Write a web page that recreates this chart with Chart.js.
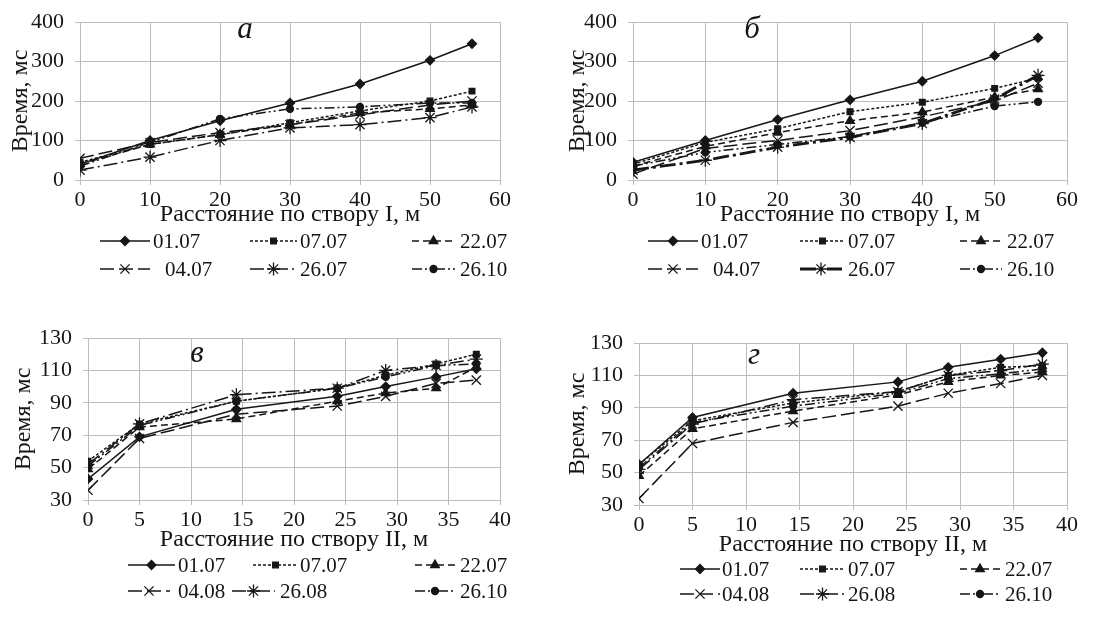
<!DOCTYPE html>
<html lang="ru">
<head>
<meta charset="UTF-8">
<title>Время прохождения по створам</title>
<script src="https://cdn.jsdelivr.net/npm/chart.js"></script>
<style>
  body { margin: 0; background: #fff; }
  .wrap { position: relative; width: 1104px; height: 617px; overflow: hidden; }
  canvas { position: absolute; }
</style>
</head>
<body>
<div class="wrap">
  <canvas id="chartA" width="552" height="310" style="left:0;top:0"></canvas>
  <canvas id="chartB" width="552" height="310" style="left:552px;top:0"></canvas>
  <canvas id="chartV" width="552" height="307" style="left:0;top:310px"></canvas>
  <canvas id="chartG" width="552" height="307" style="left:552px;top:310px"></canvas>
</div>
<script>
const distI = [0, 10, 20, 30, 40, 50, 56];
const distII = [0, 5, 14.4, 24.2, 28.9, 33.8, 37.7];
const datesI = ['01.07', '07.07', '22.07', '04.07', '26.07', '26.10'];
const datesII = ['01.07', '07.07', '22.07', '04.08', '26.08', '26.10'];
const yTicksI = [0, 100, 200, 300, 400];
const yTicksII = [30, 50, 70, 90, 110, 130];
const xTicksI = [0, 10, 20, 30, 40, 50, 60];
const xTicksII = [0, 5, 10, 15, 20, 25, 30, 35, 40];

// а) створ I
const timeA = [
  [40, 100, 150, 195, 243, 303, 345],
  [45, 90, 115, 145, 175, 200, 225],
  [40, 90, 115, 140, 170, 180, 190],
  [55, 95, 120, 140, 165, 190, 200],
  [25, 58, 100, 132, 140, 158, 185],
  [35, 95, 155, 180, 185, 195, 195]
];
// б) створ I
const timeB = [
  [45, 100, 153, 203, 250, 315, 360],
  [40, 95, 130, 173, 197, 232, 258],
  [35, 85, 120, 150, 172, 210, 230],
  [15, 80, 100, 125, 160, 200, 245],
  [25, 50, 83, 108, 143, 205, 265],
  [35, 70, 90, 110, 145, 187, 198]
];
// в) створ II
const timeV = [
  [43, 69, 86, 94, 100, 106, 111],
  [54, 77, 91, 99, 107, 114, 120],
  [49, 75, 80, 91, 96, 99, 112],
  [36, 68, 83, 88, 94, 102, 104],
  [52, 77, 95, 99, 110, 113, 117],
  [51, 76, 91, 99, 106, 113, 114]
];
// г) створ II
const timeG = [
  [55, 84, 99, 106, 115, 120, 124],
  [55, 82, 93, 100, 110, 115, 116],
  [48, 77, 88, 98, 106, 110, 112],
  [34, 68, 81, 91, 99, 105, 110],
  [52, 80, 95, 100, 110, 113, 117],
  [53, 81, 91, 99, 108, 111, 114]
];

// --- оформление серий ---
const serif = '"Liberation Serif", "DejaVu Serif", serif';
const ink = '#161616';
const gridColor = '#bdbdbd';
const seriesStyle = [
  { dash: [], point: 'rectRot', r: 4.5, w: 1.5 },
  { dash: [3, 2], point: 'rect', r: 4, w: 1.5 },
  { dash: [7, 4], point: 'triangle', r: 5, w: 1.5 },
  { dash: [14, 5], point: 'crossRot', r: 6.5, w: 1.5 },
  { dash: [14, 4, 2, 4], point: 'star', r: 6.5, w: 1.5 },
  { dash: [10, 3, 2, 3, 2, 3], point: 'circle', r: 3.5, w: 1.5 }
];

const panelLegend = {
  id: 'panelLegend',
  afterDraw(chart, args, opts) {
    const ctx = chart.ctx;
    ctx.save();
    chart.data.datasets.forEach((ds, i) => {
      const col = opts.cols[i];
      const y = opts.rows[Math.floor(i / 3)];
      ctx.strokeStyle = ink;
      ctx.lineWidth = ds.borderWidth;
      ctx.setLineDash(ds.borderDash);
      ctx.beginPath();
      ctx.moveTo(col[0], y);
      ctx.lineTo(col[1], y);
      ctx.stroke();
      ctx.setLineDash([]);
      ctx.fillStyle = ink;
      ctx.lineWidth = 1.3;
      Chart.helpers.drawPoint(ctx, {
        pointStyle: ds.pointStyle, radius: ds.pointRadius, rotation: 0, borderWidth: 1.3
      }, (col[0] + col[1]) / 2, y);
      ctx.fillStyle = ink;
      ctx.font = '21px ' + serif;
      ctx.textBaseline = 'middle';
      ctx.textAlign = 'left';
      ctx.fillText(ds.label, col[2], y + 1);
    });
    ctx.font = 'italic 31px ' + serif;
    ctx.textAlign = 'center';
    ctx.textBaseline = 'middle';
    ctx.fillStyle = ink;
    ctx.fillText(opts.letter, opts.letterPos[0], opts.letterPos[1]);
    ctx.restore();
  }
};

function makePanel(id, dist, series, dates, yTicks, xTicks, xTitle, lay) {
  const datasets = series.map((vals, i) => {
    const st = seriesStyle[i];
    const bold = lay.bold === i;
    return {
      label: dates[i],
      data: vals.map((v, k) => ({ x: dist[k], y: v })),
      borderColor: ink,
      borderWidth: bold ? 2.8 : st.w,
      borderDash: bold ? [16, 4, 3, 4] : st.dash,
      pointStyle: st.point,
      pointRadius: st.r,
      pointBackgroundColor: ink,
      pointBorderColor: ink,
      pointBorderWidth: 1.3,
      tension: 0
    };
  });
  const tickFont = { family: serif, size: 22, lineHeight: 1 };
  const titleFont = { family: serif, size: 24, lineHeight: 1 };
  new Chart(document.getElementById(id), {
    type: 'line',
    data: { datasets },
    plugins: [panelLegend],
    options: {
      responsive: false,
      animation: false,
      layout: { padding: { left: 0, right: lay.padR, top: lay.padT, bottom: lay.padB } },
      plugins: {
        legend: { display: false },
        tooltip: { enabled: false },
        panelLegend: lay.legend
      },
      scales: {
        x: {
          type: 'linear',
          min: xTicks[0],
          max: xTicks[xTicks.length - 1],
          afterFit: s => { s.height = lay.xH; },
          ticks: { stepSize: xTicks[1] - xTicks[0], color: ink, font: tickFont, padding: 4 },
          grid: { color: gridColor, tickLength: 5 },
          border: { color: gridColor },
          title: { display: true, text: xTitle, color: ink, font: titleFont, padding: { top: 0, bottom: 0 } }
        },
        y: {
          min: yTicks[0],
          max: yTicks[yTicks.length - 1],
          afterFit: s => { s.width = lay.yW; },
          ticks: { stepSize: yTicks[1] - yTicks[0], color: ink, font: tickFont, padding: 11 },
          grid: { color: gridColor, tickLength: 5 },
          border: { color: gridColor },
          title: { display: true, text: 'Время, мс', color: ink, font: titleFont, padding: { top: lay.titleL, bottom: 0 } }
        }
      }
    }
  });
}

makePanel('chartA', distI, timeA, datesI, yTicksI, xTicksI, 'Расстояние по створу I, м', {
  yW: 80, padR: 52, padT: 18, padB: 83, xH: 47, titleL: 9,
  legend: { letter: 'а', letterPos: [245, 30], rows: [241, 269],
    cols: [[100, 150, 153], [250, 297, 300], [412, 455, 460], [100, 150, 165], [250, 297, 300], [412, 455, 460]] }
});
makePanel('chartB', distI, timeB, datesI, yTicksI, xTicksI, 'Расстояние по створу I, м', {
  yW: 81, padR: 37, padT: 19, padB: 83, xH: 47, titleL: 14, bold: 4,
  legend: { letter: 'б', letterPos: [200, 30], rows: [241, 269],
    cols: [[96, 146, 149], [248, 293, 296], [408, 450, 455], [96, 146, 161], [248, 290, 296], [408, 450, 455]] }
});
makePanel('chartV', distII, timeV, datesII, yTicksII, xTicksII, 'Расстояние по створу II, м', {
  yW: 88, padR: 52, padT: 28, padB: 65, xH: 52, titleL: 12,
  legend: { letter: 'в', letterPos: [197, 44], rows: [255, 281],
    cols: [[128, 175, 178], [253, 298, 300], [415, 455, 460], [128, 170, 178], [232, 275, 280], [415, 455, 460]] }
});
makePanel('chartG', distII, timeG, datesII, yTicksII, xTicksII, 'Расстояние по створу II, м', {
  yW: 87, padR: 37, padT: 33, padB: 60, xH: 52, titleL: 14,
  legend: { letter: 'г', letterPos: [202, 46], rows: [259, 284],
    cols: [[128, 168, 170], [248, 293, 296], [408, 448, 453], [128, 168, 170], [248, 293, 296], [408, 448, 453]] }
});
</script>
</body>
</html>
